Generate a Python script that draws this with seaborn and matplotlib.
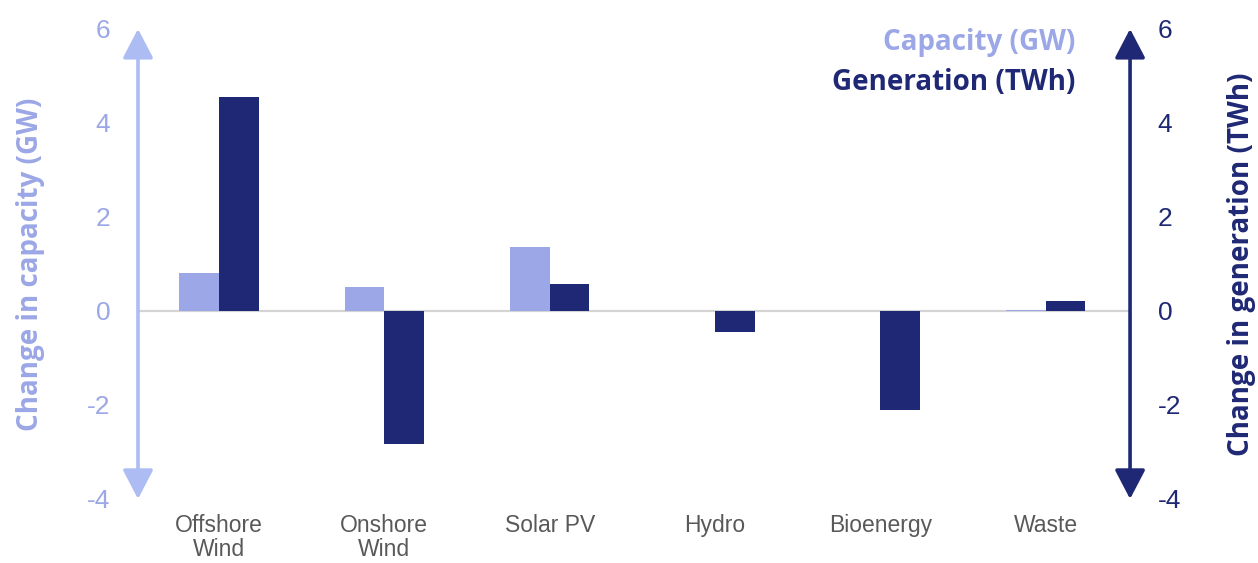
import pandas as pd
import numpy as np
import seaborn as sns
import matplotlib.pyplot as plt

# data
categories = ["Offshore\nWind", "Onshore\nWind", "Solar PV", "Hydro", "Bioenergy", "Waste"]
capacity_gw = [0.80, 0.50, 1.35, 0.0, 0.0, 0.03]
generation_twh = [4.56, -2.84, 0.57, -0.45, -2.10, 0.22]
series_names = ["Capacity (GW)", "Generation (TWh)"]
y_ticks = [-4, -2, 0, 2, 4, 6]

light = "#9ba7e6"
light_axis = "#adbdf3"
dark = "#1f2874"
grey = "#595959"

df = pd.DataFrame({
    "Technology": categories * 2,
    "Series": [series_names[0]] * len(categories) + [series_names[1]] * len(categories),
    "Value": capacity_gw + generation_twh,
})

sns.set_theme(style="white")
plt.rcParams["font.family"] = ["Liberation Sans", "DejaVu Sans"]
bold_font = ["Open Sans", "DejaVu Sans"]

fig = plt.figure(figsize=(12.58, 5.63), dpi=100)
ax = fig.add_axes([0.1097, 0.1137, 0.7886, 0.835])

ax.axhline(0, color="#d4d4d4", lw=1.6, zorder=0)
sns.barplot(data=df, x="Technology", y="Value", hue="Series", order=categories,
            hue_order=series_names, palette=[light, dark], width=0.48,
            saturation=1, linewidth=0, legend=False, ax=ax, zorder=2)

ax.set_xlim(-0.49, 5.51)
ax.set_ylim(-4, 6)
ax.set_yticks(y_ticks)
ax.set_yticklabels([str(t) for t in y_ticks])
ax.tick_params(axis="y", length=0, pad=20, labelsize=19, labelcolor=light)
ax.tick_params(axis="x", length=0, pad=11, labelsize=16.5, labelcolor=grey)
for lab in ax.get_xticklabels():
    lab.set_linespacing(1.05)
ax.set_xlabel("")
ax.set_ylabel("Change in capacity (GW)", color=light, fontsize=20,
              fontweight="bold", family=bold_font, labelpad=30)
for s in ax.spines.values():
    s.set_visible(False)

ax2 = ax.twinx()
ax2.set_ylim(-4, 6)
ax2.set_yticks(y_ticks)
ax2.set_yticklabels([str(t) for t in y_ticks])
ax2.tick_params(axis="y", length=0, pad=20, labelsize=19, labelcolor=dark)
ax2.set_ylabel("Change in generation (TWh)", color=dark, fontsize=20,
               fontweight="bold", family=bold_font, labelpad=33)
for s in ax2.spines.values():
    s.set_visible(False)

# double-headed arrows as axis lines
for x, col in [(0, light_axis), (1, dark)]:
    ax.annotate("", xy=(x, 1), xytext=(x, 0), xycoords="axes fraction",
                textcoords="axes fraction",
                arrowprops=dict(arrowstyle="<|-|>,head_length=0.9,head_width=0.47",
                                mutation_scale=20, color=col, lw=2.6,
                                shrinkA=0, shrinkB=0), annotation_clip=False)

# legend as coloured text
fig.text(0.8545, 0.925, series_names[0], color=light, fontsize=20, fontweight="bold",
         family=bold_font, ha="right", va="center")
fig.text(0.8545, 0.853, series_names[1], color=dark, fontsize=20, fontweight="bold",
         family=bold_font, ha="right", va="center")

fig.savefig("out.png", dpi=100)
